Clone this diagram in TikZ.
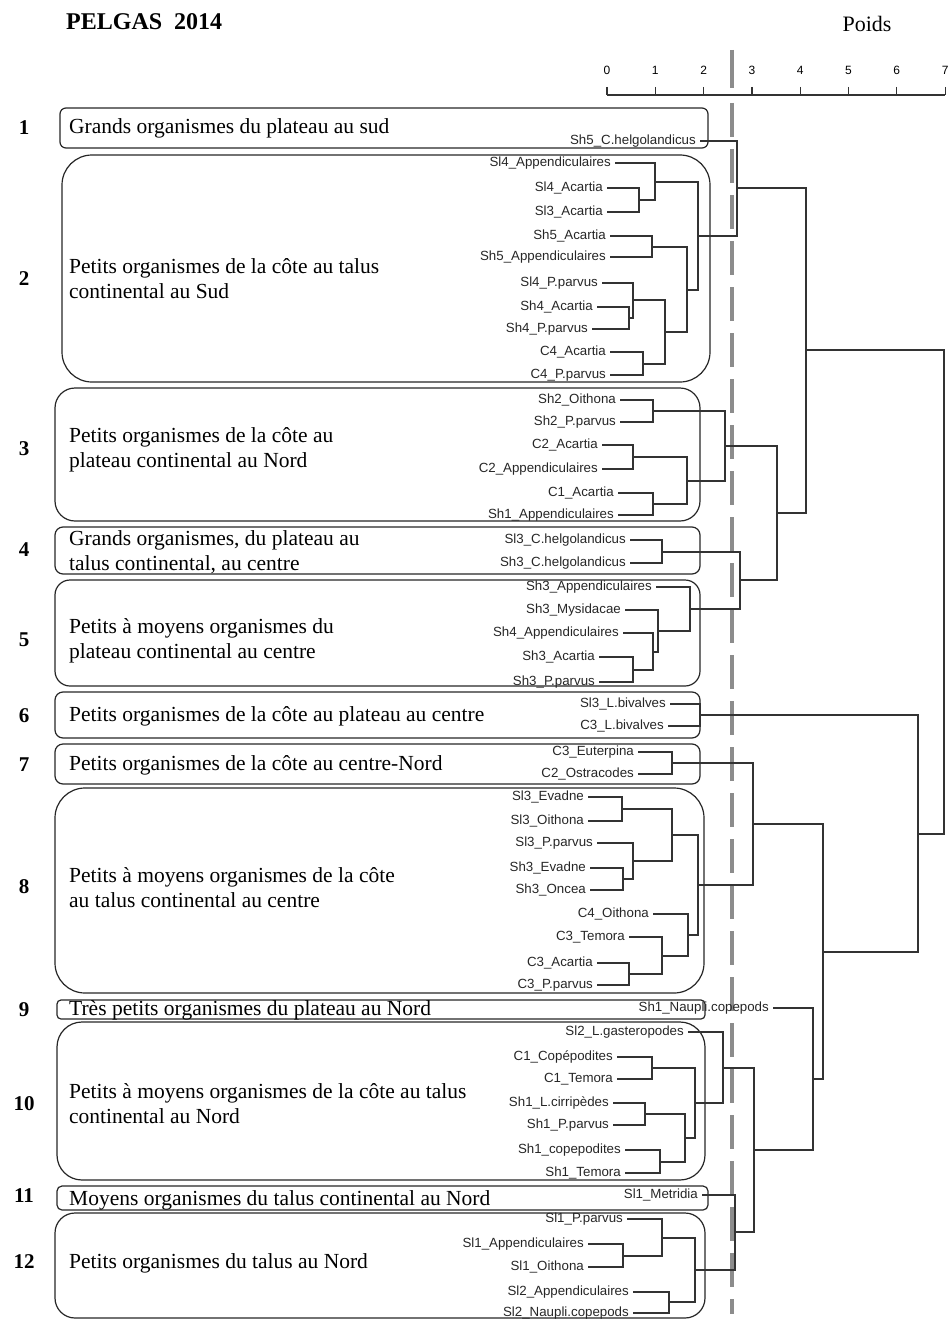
\documentclass[tikz,border=0pt]{standalone}
\usepackage{fontspec}
\setmainfont{Liberation Serif}
\setsansfont{Liberation Sans}
\begin{document}
\begin{tikzpicture}[x=1pt,y=-1pt,
  leaf/.style={anchor=east,font=\sffamily\fontsize{13.3}{13.3}\selectfont,inner xsep=4pt,inner ysep=0pt,text height=9pt,text depth=2pt,text=black!85},
  br/.style={line width=1.3pt,draw=black!80},
  grp/.style={draw=black!85,line width=1.2pt,rounded corners=#1},
  gtext/.style={anchor=west,align=left,font=\fontsize{21.5}{25}\selectfont,inner sep=0pt},
  num/.style={font=\bfseries\fontsize{21}{21}\selectfont,inner sep=0pt},
  cut/.style={line width=3.5pt,draw=black!45,dash pattern=on 34pt off 12pt},
  ticklab/.style={font=\sffamily\fontsize{12}{12}\selectfont,inner sep=0pt}
  ]
\useasboundingbox (0,0) rectangle (948,1319);

% title and axis
\node[anchor=west,font=\bfseries\fontsize{24}{24}\selectfont,inner sep=0pt] (title) at (66,22) {PELGAS\ \ 2014};
\node[font=\fontsize{22}{22}\selectfont,inner sep=0pt] (poids) at (867,24) {Poids};
\draw[line width=1.2pt,draw=black!80] (607,95) -- (945,95);
\foreach \k in {0,...,7}{
  \draw[line width=1.2pt,draw=black!80] ({607+48.3*\k},87) -- ({607+48.3*\k},95);
  \node[ticklab] (t\k) at ({607+48.3*\k},70) {\k};
}

% group boxes
\draw[grp=6]  (60,108)  rectangle (708,148);
\draw[grp=30] (62,155)  rectangle (710,382);
\draw[grp=20] (55,388)  rectangle (700,521);
\draw[grp=8]  (55,527)  rectangle (700,574);
\draw[grp=15] (55,580)  rectangle (700,686);
\draw[grp=8]  (55,692)  rectangle (700,738);
\draw[grp=8]  (55,744)  rectangle (700,784);
\draw[grp=30] (55,788)  rectangle (704,993);
\draw[grp=4]  (57,1000) rectangle (705,1019);
\draw[grp=25] (57,1022) rectangle (705,1180);
\draw[grp=5]  (57,1186) rectangle (708,1210);
\draw[grp=20] (55,1213) rectangle (705,1318);

% group numbers
\node[num] (n1) at (24,128) {1};
\node[num] (n2) at (24,279) {2};
\node[num] (n3) at (24,449) {3};
\node[num] (n4) at (24,550) {4};
\node[num] (n5) at (24,640) {5};
\node[num] (n6) at (24,716) {6};
\node[num] (n7) at (24,765) {7};
\node[num] (n8) at (24,887) {8};
\node[num] (n9) at (24,1010) {9};
\node[num] (n10) at (24,1104) {10};
\node[num] (n11) at (24,1196) {11};
\node[num] (n12) at (24,1262) {12};

% group texts
\node[gtext] (g1) at (69,128) {Grands organismes du plateau au sud};
\node[gtext] (g2) at (69,279) {Petits organismes de la côte au talus\\continental au Sud};
\node[gtext] (g3) at (69,450) {Petits organismes de la côte au\\plateau continental au Nord};
\node[gtext] (g4) at (69,552) {Grands organismes, du plateau au\\talus continental, au centre};
\node[gtext] (g5) at (69,641) {Petits à moyens organismes du\\plateau continental au centre};
\node[gtext] (g6) at (69,716) {Petits organismes de la côte au plateau au centre};
\node[gtext] (g7) at (69,765) {Petits organismes de la côte au centre-Nord};
\node[gtext] (g8) at (69,888) {Petits à moyens organismes de la côte\\au talus continental au centre};
\node[gtext] (g9) at (69,1010) {Très petits organismes du plateau au Nord};
\node[gtext] (g10) at (69,1104) {Petits à moyens organismes de la côte au talus\\continental au Nord};
\node[gtext] (g11) at (69,1200) {Moyens organismes du talus continental au Nord};
\node[gtext] (g12) at (69,1263) {Petits organismes du talus au Nord};

% cut line
\draw[line width=3.5pt,draw=black!45] (732,50) -- (732,88);
\draw[cut] (732,103) -- (732,1314);

% leaves
\node[leaf] (L1) at (700,141) {Sh5\_C.helgolandicus};
\node[leaf] (L2) at (615,163) {Sl4\_Appendiculaires};
\node[leaf] (L3) at (607,188) {Sl4\_Acartia};
\node[leaf] (L4) at (607,212) {Sl3\_Acartia};
\node[leaf] (L5) at (610,236) {Sh5\_Acartia};
\node[leaf] (L6) at (610,257) {Sh5\_Appendiculaires};
\node[leaf] (L7) at (602,283) {Sl4\_P.parvus};
\node[leaf] (L8) at (597,307) {Sh4\_Acartia};
\node[leaf] (L9) at (592,329) {Sh4\_P.parvus};
\node[leaf] (L10) at (610,352) {C4\_Acartia};
\node[leaf] (L11) at (610,375) {C4\_P.parvus};
\node[leaf] (L12) at (620,400) {Sh2\_Oithona};
\node[leaf] (L13) at (620,422) {Sh2\_P.parvus};
\node[leaf] (L14) at (602,445) {C2\_Acartia};
\node[leaf] (L15) at (602,469) {C2\_Appendiculaires};
\node[leaf] (L16) at (618,493) {C1\_Acartia};
\node[leaf] (L17) at (618,515) {Sh1\_Appendiculaires};
\node[leaf] (L18) at (630,540) {Sl3\_C.helgolandicus};
\node[leaf] (L19) at (630,563) {Sh3\_C.helgolandicus};
\node[leaf] (L20) at (656,587) {Sh3\_Appendiculaires};
\node[leaf] (L21) at (625,610) {Sh3\_Mysidacae};
\node[leaf] (L22) at (623,633) {Sh4\_Appendiculaires};
\node[leaf] (L23) at (599,657) {Sh3\_Acartia};
\node[leaf] (L24) at (599,682) {Sh3\_P.parvus};
\node[leaf] (L25) at (670,704) {Sl3\_L.bivalves};
\node[leaf] (L26) at (668,726) {C3\_L.bivalves};
\node[leaf] (L27) at (638,752) {C3\_Euterpina};
\node[leaf] (L28) at (638,774) {C2\_Ostracodes};
\node[leaf] (L29) at (588,797) {Sl3\_Evadne};
\node[leaf] (L30) at (588,821) {Sl3\_Oithona};
\node[leaf] (L31) at (597,843) {Sl3\_P.parvus};
\node[leaf] (L32) at (590,868) {Sh3\_Evadne};
\node[leaf] (L33) at (590,890) {Sh3\_Oncea};
\node[leaf] (L34) at (653,914) {C4\_Oithona};
\node[leaf] (L35) at (629,937) {C3\_Temora};
\node[leaf] (L36) at (597,963) {C3\_Acartia};
\node[leaf] (L37) at (597,985) {C3\_P.parvus};
\node[leaf] (L38) at (773,1008) {Sh1\_Naupli.copepods};
\node[leaf] (L39) at (688,1032) {Sl2\_L.gasteropodes};
\node[leaf] (L40) at (617,1057) {C1\_Copépodites};
\node[leaf] (L41) at (617,1079) {C1\_Temora};
\node[leaf] (L42) at (613,1103) {Sh1\_L.cirripèdes};
\node[leaf] (L43) at (613,1125) {Sh1\_P.parvus};
\node[leaf] (L44) at (625,1150) {Sh1\_copepodites};
\node[leaf] (L45) at (625,1173) {Sh1\_Temora};
\node[leaf] (L46) at (702,1195) {Sl1\_Metridia};
\node[leaf] (L47) at (627,1219) {Sl1\_P.parvus};
\node[leaf] (L48) at (588,1244) {Sl1\_Appendiculaires};
\node[leaf] (L49) at (588,1267) {Sl1\_Oithona};
\node[leaf] (L50) at (633,1292) {Sl2\_Appendiculaires};
\node[leaf] (L51) at (633,1313) {Sl2\_Naupli.copepods};

% merge points
\coordinate (m2b) at (639,200);
\coordinate (m2a) at (655,182);
\coordinate (m2c) at (652,247);
\coordinate (m2d) at (629,318);
\coordinate (m2e) at (633,300);
\coordinate (m2f) at (643,364);
\coordinate (m2g) at (665,332);
\coordinate (m2h) at (687,290);
\coordinate (m2i) at (698,236);
\coordinate (T1) at (737,188);
\coordinate (m3a) at (653,411);
\coordinate (m3b) at (633,457);
\coordinate (m3c) at (653,504);
\coordinate (m3d) at (687,481);
\coordinate (m3e) at (725,446);
\coordinate (m4) at (662,552);
\coordinate (m5a) at (633,670);
\coordinate (m5b) at (653,652);
\coordinate (m5c) at (658,631);
\coordinate (m5d) at (690,609);
\coordinate (m45) at (740,580);
\coordinate (m345) at (777,513);
\coordinate (mA) at (806,350);
\coordinate (m6) at (700,715);
\coordinate (m7) at (672,763);
\coordinate (m8a) at (622,809);
\coordinate (m8b) at (623,879);
\coordinate (m8c) at (633,861);
\coordinate (m8d) at (672,835);
\coordinate (m8e) at (629,974);
\coordinate (m8f) at (662,956);
\coordinate (m8g) at (688,935);
\coordinate (m8h) at (698,885);
\coordinate (m78) at (753,824);
\coordinate (m10a) at (652,1068);
\coordinate (m10b) at (645,1114);
\coordinate (m10c) at (660,1162);
\coordinate (m10d) at (685,1138);
\coordinate (m10e) at (695,1103);
\coordinate (m10f) at (723,1068);
\coordinate (m12a) at (623,1256);
\coordinate (m12b) at (662,1238);
\coordinate (m12c) at (669,1302);
\coordinate (m12d) at (695,1270);
\coordinate (m11) at (735,1232);
\coordinate (m1012) at (754,1150);
\coordinate (m9) at (813,1079);
\coordinate (mB) at (823,952);
\coordinate (mC) at (918,834);
\coordinate (root) at (944,592);

% branches
\draw[br] (L1.east) -| (T1);
\draw[br] (L2.east) -| (m2a);
\draw[br] (L3.east) -| (m2b);
\draw[br] (L4.east) -| (m2b);
\draw[br] (m2b) -| (m2a);
\draw[br] (L5.east) -| (m2c);
\draw[br] (L6.east) -| (m2c);
\draw[br] (L8.east) -| (m2d);
\draw[br] (L9.east) -| (m2d);
\draw[br] (L7.east) -| (m2e);
\draw[br] (m2d) -| (m2e);
\draw[br] (L10.east) -| (m2f);
\draw[br] (L11.east) -| (m2f);
\draw[br] (m2e) -| (m2g);
\draw[br] (m2f) -| (m2g);
\draw[br] (m2c) -| (m2h);
\draw[br] (m2g) -| (m2h);
\draw[br] (m2a) -| (m2i);
\draw[br] (m2h) -| (m2i);
\draw[br] (m2i) -| (T1);

\draw[br] (L12.east) -| (m3a);
\draw[br] (L13.east) -| (m3a);
\draw[br] (L14.east) -| (m3b);
\draw[br] (L15.east) -| (m3b);
\draw[br] (L16.east) -| (m3c);
\draw[br] (L17.east) -| (m3c);
\draw[br] (m3b) -| (m3d);
\draw[br] (m3c) -| (m3d);
\draw[br] (m3a) -| (m3e);
\draw[br] (m3d) -| (m3e);

\draw[br] (L18.east) -| (m4);
\draw[br] (L19.east) -| (m4);
\draw[br] (L23.east) -| (m5a);
\draw[br] (L24.east) -| (m5a);
\draw[br] (L22.east) -| (m5b);
\draw[br] (m5a) -| (m5b);
\draw[br] (L21.east) -| (m5c);
\draw[br] (m5b) -| (m5c);
\draw[br] (L20.east) -| (m5d);
\draw[br] (m5c) -| (m5d);
\draw[br] (m4) -| (m45);
\draw[br] (m5d) -| (m45);
\draw[br] (m3e) -| (m345);
\draw[br] (m45) -| (m345);
\draw[br] (T1) -| (mA);
\draw[br] (m345) -| (mA);

\draw[br] (L25.east) -| (m6);
\draw[br] (L26.east) -| (m6);
\draw[br] (L27.east) -| (m7);
\draw[br] (L28.east) -| (m7);
\draw[br] (L29.east) -| (m8a);
\draw[br] (L30.east) -| (m8a);
\draw[br] (L32.east) -| (m8b);
\draw[br] (L33.east) -| (m8b);
\draw[br] (L31.east) -| (m8c);
\draw[br] (m8b) -| (m8c);
\draw[br] (m8a) -| (m8d);
\draw[br] (m8c) -| (m8d);
\draw[br] (L36.east) -| (m8e);
\draw[br] (L37.east) -| (m8e);
\draw[br] (L35.east) -| (m8f);
\draw[br] (m8e) -| (m8f);
\draw[br] (L34.east) -| (m8g);
\draw[br] (m8f) -| (m8g);
\draw[br] (m8d) -| (m8h);
\draw[br] (m8g) -| (m8h);
\draw[br] (m7) -| (m78);
\draw[br] (m8h) -| (m78);

\draw[br] (L40.east) -| (m10a);
\draw[br] (L41.east) -| (m10a);
\draw[br] (L42.east) -| (m10b);
\draw[br] (L43.east) -| (m10b);
\draw[br] (L44.east) -| (m10c);
\draw[br] (L45.east) -| (m10c);
\draw[br] (m10b) -| (m10d);
\draw[br] (m10c) -| (m10d);
\draw[br] (m10a) -| (m10e);
\draw[br] (m10d) -| (m10e);
\draw[br] (L39.east) -| (m10f);
\draw[br] (m10e) -| (m10f);
\draw[br] (L48.east) -| (m12a);
\draw[br] (L49.east) -| (m12a);
\draw[br] (L47.east) -| (m12b);
\draw[br] (m12a) -| (m12b);
\draw[br] (L50.east) -| (m12c);
\draw[br] (L51.east) -| (m12c);
\draw[br] (m12b) -| (m12d);
\draw[br] (m12c) -| (m12d);
\draw[br] (L46.east) -| (m11);
\draw[br] (m12d) -| (m11);
\draw[br] (m10f) -| (m1012);
\draw[br] (m11) -| (m1012);
\draw[br] (L38.east) -| (m9);
\draw[br] (m1012) -| (m9);
\draw[br] (m78) -| (mB);
\draw[br] (m9) -| (mB);
\draw[br] (m6) -| (mC);
\draw[br] (mB) -| (mC);
\draw[br] (mA) -| (root);
\draw[br] (mC) -| (root);
\end{tikzpicture}
\end{document}
